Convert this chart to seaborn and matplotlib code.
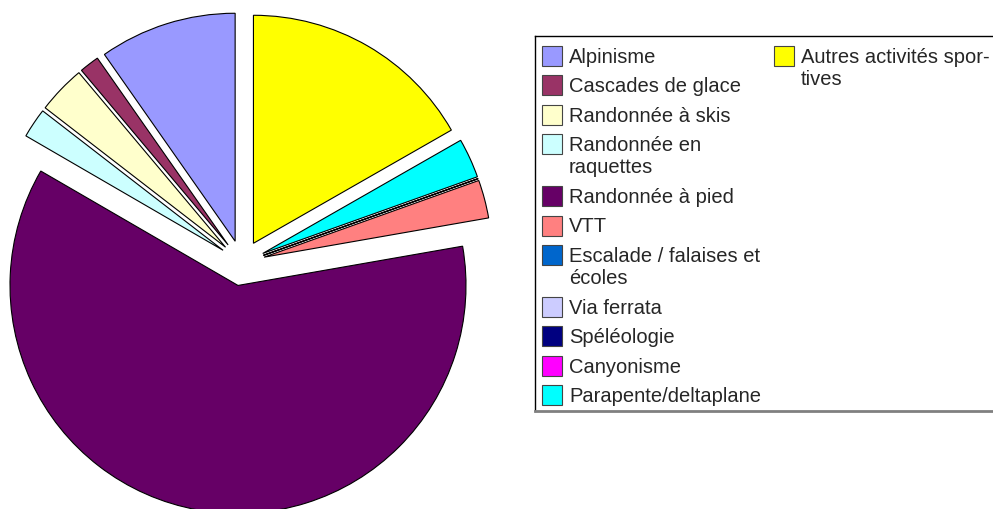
import matplotlib
matplotlib.use("Agg")
import matplotlib.pyplot as plt
import seaborn as sns

# données (parts en %)
categories = [
    "Alpinisme",
    "Cascades de glace",
    "Randonnée à skis",
    "Randonnée en\nraquettes",
    "Randonnée à pied",
    "VTT",
    "Escalade / falaises et\nécoles",
    "Via ferrata",
    "Spéléologie",
    "Canyonisme",
    "Parapente/deltaplane",
    "Autres activités spor-\ntives",
]
values = [9.7, 1.4, 3.4, 2.1, 61.0, 2.7, 0, 0, 0, 0, 2.8, 16.7]
colors = ["#9999FF", "#993366", "#FFFFCC", "#CCFFFF", "#660066", "#FF8080",
          "#0066CC", "#CCCCFF", "#000080", "#FF00FF", "#00FFFF", "#FFFF00"]

sns.set_style("white")
plt.rcParams["font.family"] = ["Liberation Sans", "DejaVu Sans"]

W, H = 993, 510
fig = plt.figure(figsize=(W / 100, H / 100), dpi=100)

# camembert : centre (242, 264) px, rayon 228 px
cx, cy, r = 242, 264, 228
ax = fig.add_axes([0, 0, 500 / W, 1])
palette = sns.color_palette(colors)
ax.pie(
    values,
    colors=palette,
    startangle=90,
    counterclock=True,
    explode=[0.1] * len(values),
    radius=1,
    wedgeprops={"edgecolor": "black", "linewidth": 0.8},
)
ax.set_xlim(-cx / r, (500 - cx) / r)
ax.set_ylim((cy - H) / r, cy / r)
ax.set_aspect("auto")
ax.axis("off")

# légende dessinée à la main (coordonnées en pixels)
lx0, ly0 = 535, 37
leg = fig.add_axes([lx0 / W, 1 - 412 / H, (W - lx0) / W, (412 - ly0) / H])
leg.set_xlim(0, W - lx0)
leg.set_ylim(412 - ly0, 0)
leg.set_xticks([])
leg.set_yticks([])
for s in ["left", "top"]:
    leg.spines[s].set_color("black")
    leg.spines[s].set_linewidth(1)
leg.spines["right"].set_visible(False)
leg.spines["bottom"].set_color("#808080")
leg.spines["bottom"].set_linewidth(2)


def entry(ax_, x, y, label, color):
    ax_.add_patch(plt.Rectangle((x, y - 10), 20, 20, facecolor=color,
                                edgecolor="#444444", linewidth=0.8))
    ax_.text(x + 27, y - 9, label, fontsize=14.5, va="top", ha="left",
             linespacing=1.22)


y = 20
for lab, col in zip(categories[:-1], colors[:-1]):
    entry(leg, 7, y, lab, col)
    y += 29.3 + 23 * lab.count("\n")
entry(leg, 239, 20, categories[-1], colors[-1])

fig.savefig("out.png", dpi=100)
